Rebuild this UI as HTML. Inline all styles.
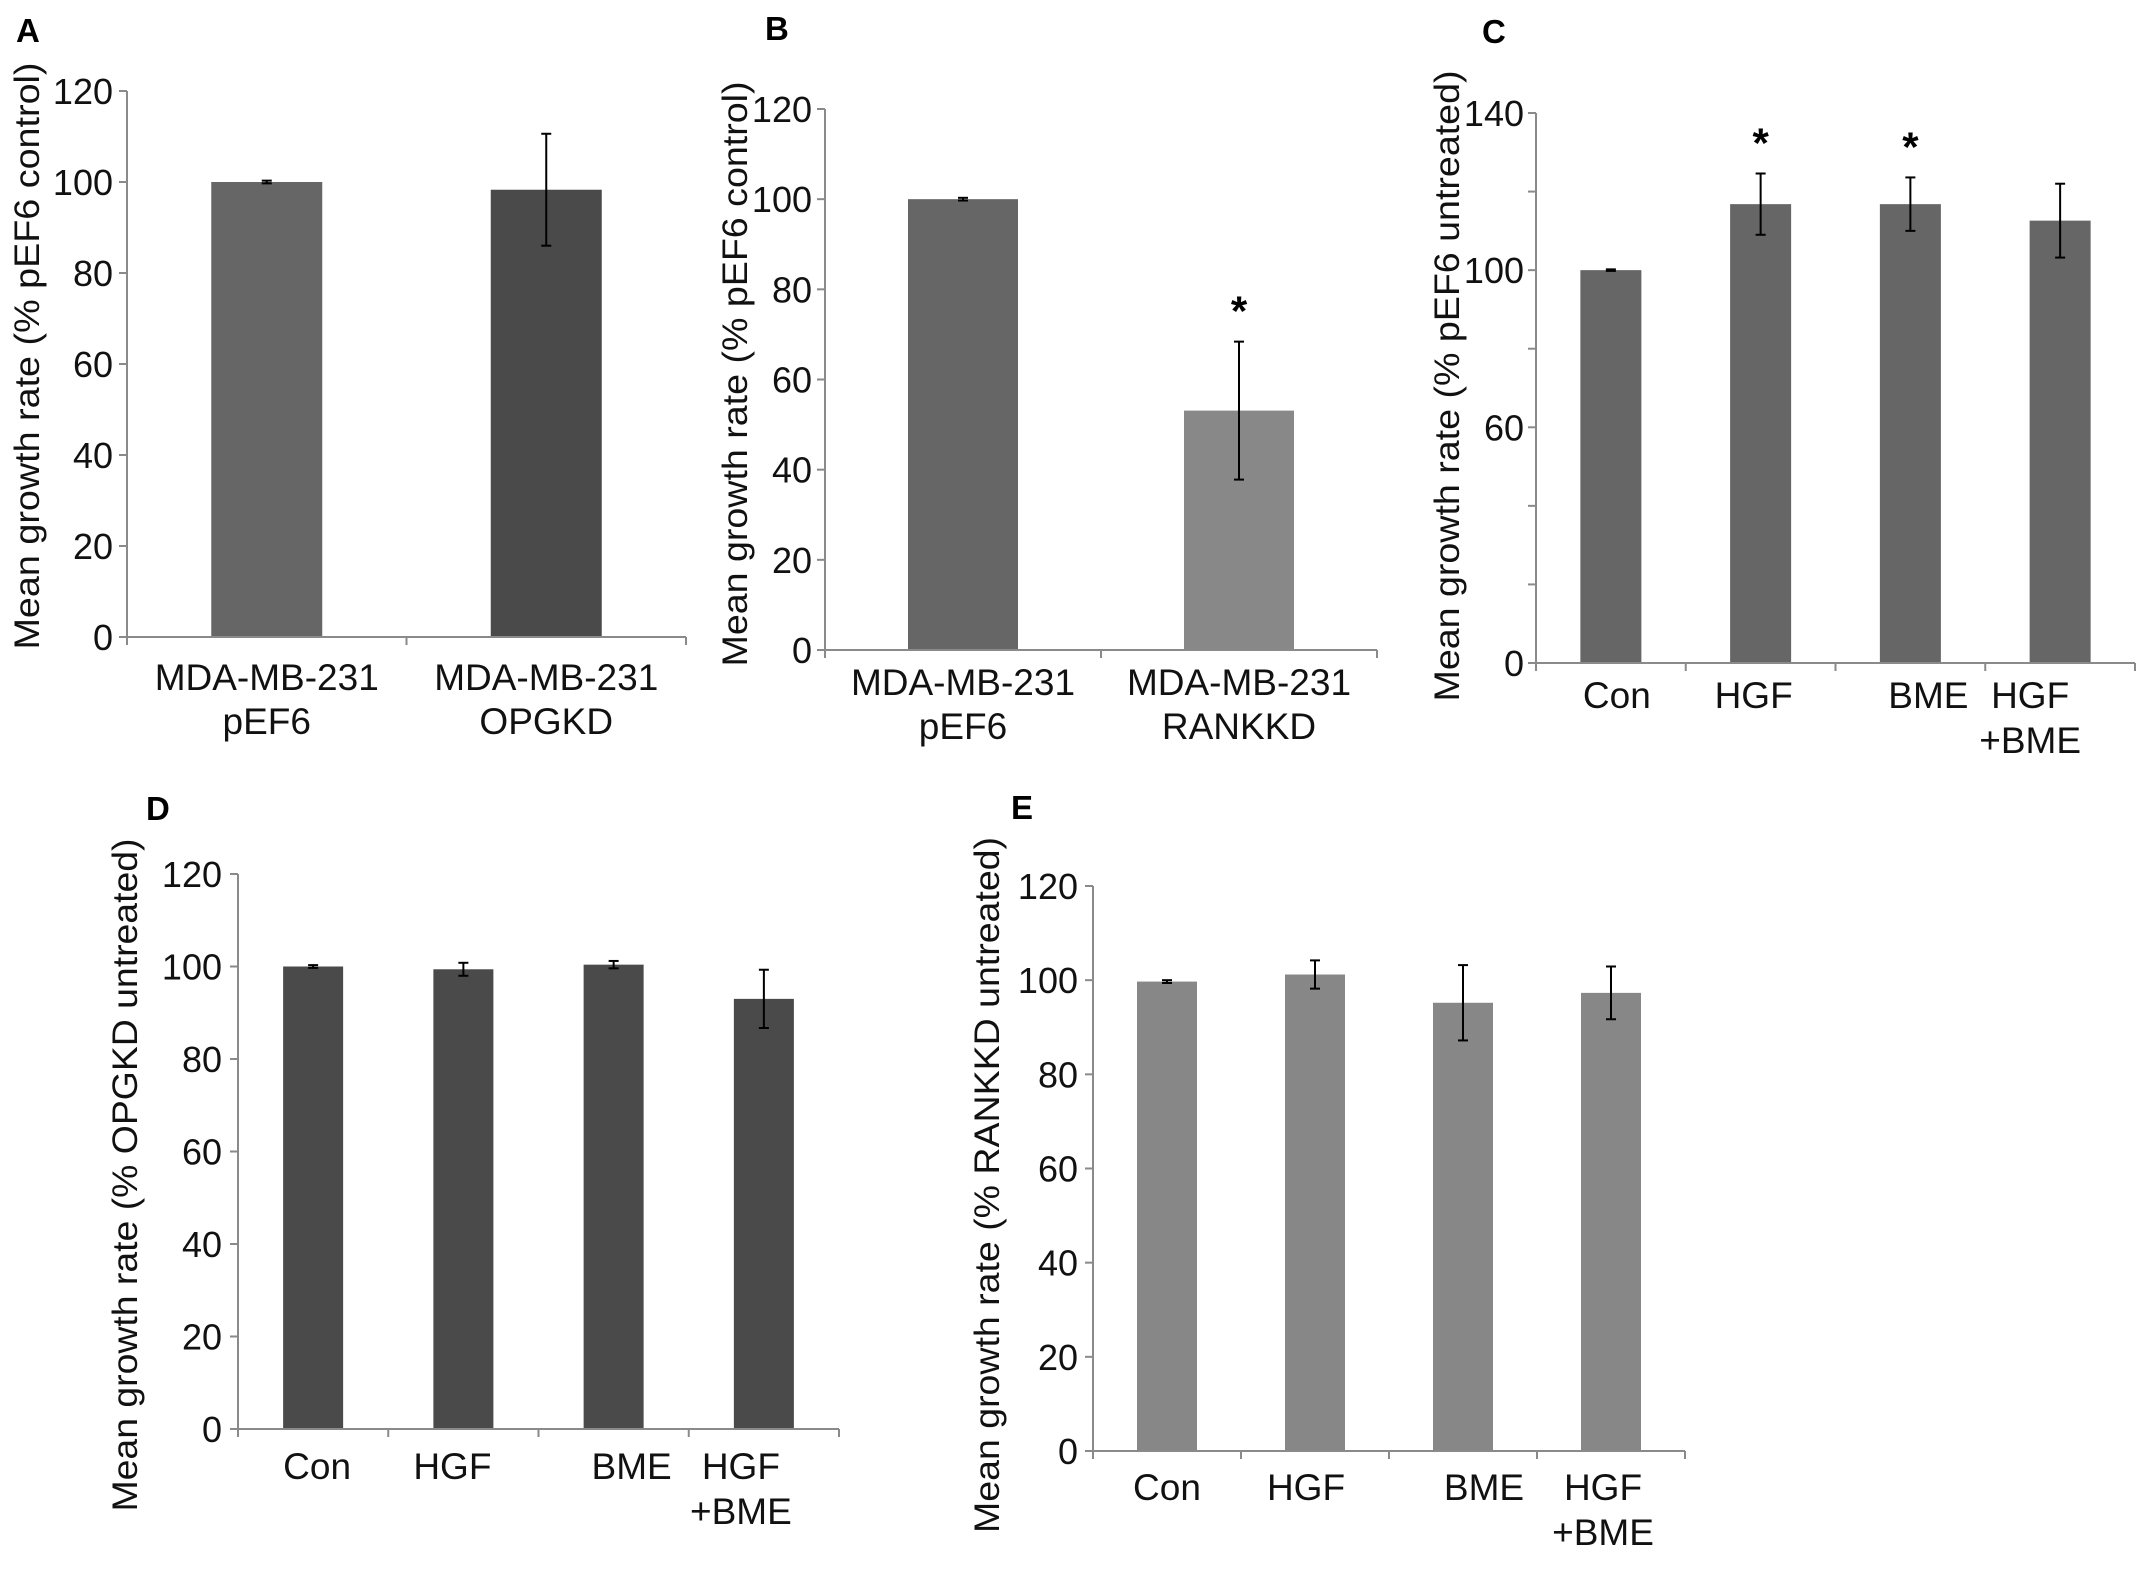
<!DOCTYPE html>
<html><head><meta charset="utf-8"><style>
html,body{margin:0;padding:0;background:#fff;}
svg{display:block;font-family:"Liberation Sans",Arial,sans-serif;}
</style></head>
<body>
<svg id="fig" width="2150" height="1591" viewBox="0 0 2150 1591"></svg>
<script>
// ---- Data ----
const catsAB_A = ["MDA-MB-231|pEF6", "MDA-MB-231|OPGKD"];
const valsA = [100, 98.3];
const errA = [0.3, 12.3];
const catsB = ["MDA-MB-231|pEF6", "MDA-MB-231|RANKKD"];
const valsB = [100, 53.1];
const errB = [0.3, 15.3];
const catsTreat = ["Con", "HGF", "BME", "HGF|+BME"];
const valsC = [100, 116.8, 116.8, 112.6];
const errC = [0.2, 7.8, 6.8, 9.4];
const valsD = [100, 99.4, 100.4, 93];
const errD = [0.3, 1.4, 0.8, 6.3];
const valsE = [99.7, 101.2, 95.2, 97.3];
const errE = [0.3, 3.0, 8.0, 5.6];
const ticksAB = [0, 20, 40, 60, 80, 100, 120];
const ticksC = [0, 20, 40, 60, 80, 100, 120, 140];
const tickLabelsC = ["0", "", "", "60", "", "100", "", "140"];
const starsB = [false, true];
const starsC = [false, true, true, false];

const NS = "http://www.w3.org/2000/svg";
const svg = document.getElementById("fig");
function mk(tag, attrs, parent) {
  const e = document.createElementNS(NS, tag);
  for (const k in attrs) e.setAttribute(k, attrs[k]);
  (parent || svg).appendChild(e);
  return e;
}

function panel(p) {
  const g = mk("g", {});
  
  
  const ymax = p.ticks[p.ticks.length - 1];
  const yS = v => p.y0 - (v / ymax) * (p.y0 - p.yTop);
  const n = p.cats.length;
  const band = (p.xEnd - p.ax) / n;
  const xC = i => p.ax + band * (i + 0.5);
  const t = mk("text", {x: p.letterX, y: p.letterY, "font-size": 33, "font-weight": "bold", fill: "#000"}, g);
  t.textContent = p.id;
  
  
  const yt = mk("text", {x: 0, y: 0, "font-size": 35, fill: "#111", "text-anchor": "middle",
    transform: `translate(${p.titleX},${p.titleY}) rotate(-90)`, textLength: p.titleLen, lengthAdjust: "spacingAndGlyphs"}, g);
  yt.textContent = p.title;
  
  
  p.vals.forEach((v, i) => {
    const c = p.colors[i % p.colors.length];
    const r = mk("rect", {x: xC(i) - p.bw / 2, y: yS(v), width: p.bw, height: p.y0 - yS(v), fill: c}, g);
    
    
    const hi = yS(v + p.err[i]), lo = yS(v - p.err[i]);
    const eg = mk("g", {stroke: "#000", "stroke-width": 2}, g);
    
    
    mk("line", {x1: xC(i), x2: xC(i), y1: hi, y2: lo}, eg);
    mk("line", {x1: xC(i) - 5, x2: xC(i) + 5, y1: hi, y2: hi}, eg);
    mk("line", {x1: xC(i) - 5, x2: xC(i) + 5, y1: lo, y2: lo}, eg);
    if (p.stars && p.stars[i]) {
      const s = mk("text", {x: xC(i), y: hi - 16, "font-size": 42, "font-weight": "bold", "text-anchor": "middle"}, g);
      s.textContent = "*";
      
      
    }
  });
  const ag = mk("g", {stroke: "#8a8a8a", "stroke-width": 2}, g);
  
  
  mk("line", {x1: p.ax, x2: p.ax, y1: p.yTop, y2: p.y0 + 8}, ag);
  mk("line", {x1: p.ax - 8, x2: p.xEnd, y1: p.y0, y2: p.y0}, ag);
  for (let k = 1; k <= n; k++) mk("line", {x1: p.ax + band * k, x2: p.ax + band * k, y1: p.y0, y2: p.y0 + 8}, ag);
  p.ticks.forEach((tv, k) => {
    mk("line", {x1: p.ax - 8, x2: p.ax, y1: yS(tv), y2: yS(tv)}, ag);
    const lab = p.tickLabels ? p.tickLabels[k] : String(tv);
    if (lab) {
      const tl = mk("text", {x: p.tickRight, y: yS(tv) + 13, "font-size": 36, fill: "#111", "text-anchor": "end"}, g);
      tl.textContent = lab;
      
      
    }
  });
  p.cats.forEach((c, i) => {
    const lines = c.split("|");
    const lx = xC(i) + (p.labShift ? p.labShift[i] : 0);
    lines.forEach((ln, j) => {
      const tl = mk("text", {x: lx, y: p.labY + j * p.labGap, "font-size": 37, fill: "#111", "text-anchor": "middle"}, g);
      tl.textContent = ln;
      
      
    });
  });
}

panel({id: "A", cats: catsAB_A, vals: valsA, err: errA, ticks: ticksAB, colors: ["#666666", "#4a4a4a"],
  ax: 127, xEnd: 686, yTop: 91, y0: 637, bw: 111, tickRight: 113, letterX: 16, letterY: 42,
  title: "Mean growth rate (% pEF6 control)", titleX: 39, titleY: 356, titleLen: 587, labY: 690, labGap: 44});
panel({id: "B", cats: catsB, vals: valsB, err: errB, ticks: ticksAB, colors: ["#666666", "#888888"], stars: starsB,
  ax: 825, xEnd: 1377, yTop: 109, y0: 650, bw: 110, tickRight: 812, letterX: 765, letterY: 40,
  title: "Mean growth rate (% pEF6 control)", titleX: 747, titleY: 374, titleLen: 585, labY: 695, labGap: 44});
panel({id: "C", cats: catsTreat, vals: valsC, err: errC, ticks: ticksC, tickLabels: tickLabelsC, colors: ["#666666"], stars: starsC,
  ax: 1536, xEnd: 2135, yTop: 113, y0: 663, bw: 61, tickRight: 1524, letterX: 1482, letterY: 43,
  title: "Mean growth rate (% pEF6 untreated)", titleX: 1459, titleY: 386, titleLen: 631, labY: 708, labGap: 45,
  labShift: [6, -7, 18, -30]});
panel({id: "D", cats: catsTreat, vals: valsD, err: errD, ticks: ticksAB, colors: ["#4a4a4a"],
  ax: 238, xEnd: 839, yTop: 874, y0: 1429, bw: 60, tickRight: 222, letterX: 146, letterY: 820,
  title: "Mean growth rate (% OPGKD untreated)", titleX: 137, titleY: 1175, titleLen: 673, labY: 1479, labGap: 45,
  labShift: [4, -11, 18, -23]});
panel({id: "E", cats: catsTreat, vals: valsE, err: errE, ticks: ticksAB, colors: ["#878787"],
  ax: 1093, xEnd: 1685, yTop: 886, y0: 1451, bw: 60, tickRight: 1078, letterX: 1011, letterY: 819,
  title: "Mean growth rate (% RANKKD untreated)", titleX: 999, titleY: 1185, titleLen: 696, labY: 1500, labGap: 45,
  labShift: [0, -9, 21, -8]});
</script>
</body></html>
